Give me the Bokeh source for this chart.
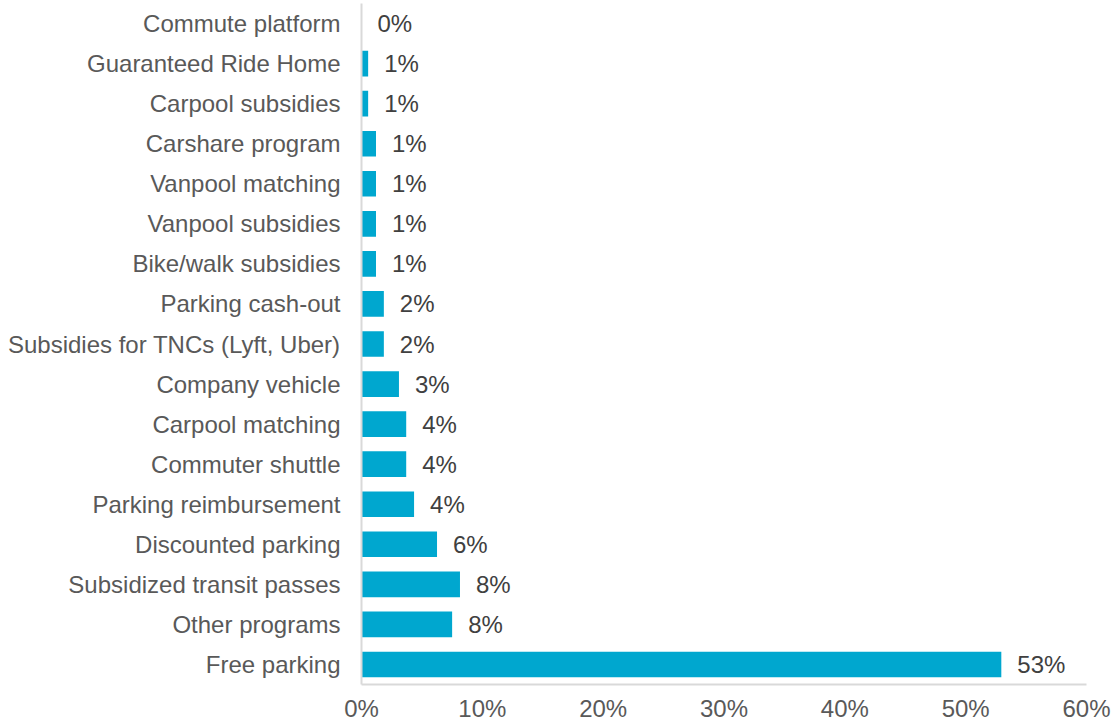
from bokeh.plotting import figure
from bokeh.models import ColumnDataSource, Range1d, FixedTicker, PrintfTickFormatter
from bokeh.core.properties import value
from bokeh.embed import file_html
from bokeh.resources import INLINE

# Data (top to bottom as displayed)
categories = [
    "Commute platform", "Guaranteed Ride Home", "Carpool subsidies", "Carshare program",
    "Vanpool matching", "Vanpool subsidies", "Bike/walk subsidies", "Parking cash-out",
    "Subsidies for TNCs (Lyft, Uber)", "Company vehicle", "Carpool matching",
    "Commuter shuttle", "Parking reimbursement", "Discounted parking",
    "Subsidized transit passes", "Other programs", "Free parking",
]
values = [0.0, 0.55, 0.55, 1.2, 1.2, 1.2, 1.2, 1.85, 1.85, 3.1, 3.7, 3.7, 4.35, 6.25, 8.15, 7.5, 52.95]
labels = ["0%", "1%", "1%", "1%", "1%", "1%", "1%", "2%", "2%", "3%", "4%", "4%", "4%", "6%", "8%", "8%", "53%"]
x_ticks = [0, 10, 20, 30, 40, 50, 60]

n = len(categories)
ypos = [n - 1 - i for i in range(n)]

src = ColumnDataSource(dict(y=ypos, v=values, lab=labels, cat=categories))

FONT = "Liberation Sans"

p = figure(width=1116, height=726, output_backend="svg", toolbar_location=None,
           x_range=Range1d(0, 60), y_range=Range1d(-0.5, 16.5),
           min_border_left=361, min_border_right=30, min_border_top=3, min_border_bottom=42)
p.outline_line_color = None
p.xgrid.visible = False
p.ygrid.visible = False
p.background_fill_color = "white"
p.border_fill_color = "white"

p.hbar(y="y", right="v", left=0, height=0.64, source=src, fill_color="#00A7CF", line_color=None)
p.text(x="v", y="y", text="lab", source=src, x_offset=16, text_align="left", text_baseline="middle",
       text_font=value(FONT), text_font_size="24px", text_color="#404040")

# x axis
xa = p.xaxis[0]
xa.ticker = FixedTicker(ticks=x_ticks)
xa.formatter = PrintfTickFormatter(format="%d%%")
xa.axis_line_color = "#d9d9d9"
xa.axis_line_width = 2
xa.major_tick_line_color = None
xa.minor_tick_line_color = None
xa.major_tick_out = 0
xa.major_tick_in = 0
xa.major_label_standoff = 10
xa.major_label_text_font = FONT
xa.major_label_text_font_size = "24px"
xa.major_label_text_color = "#595959"

# y axis
ya = p.yaxis[0]
ya.ticker = FixedTicker(ticks=ypos)
ya.major_label_overrides = {y: c for y, c in zip(ypos, categories)}
ya.axis_line_color = "#d9d9d9"
ya.axis_line_width = 2
ya.major_tick_line_color = None
ya.minor_tick_line_color = None
ya.major_tick_out = 0
ya.major_tick_in = 0
ya.major_label_standoff = 21
ya.major_label_text_font = FONT
ya.major_label_text_font_size = "24px"
ya.major_label_text_color = "#595959"

open("out.html", "w").write(file_html(p, INLINE))
